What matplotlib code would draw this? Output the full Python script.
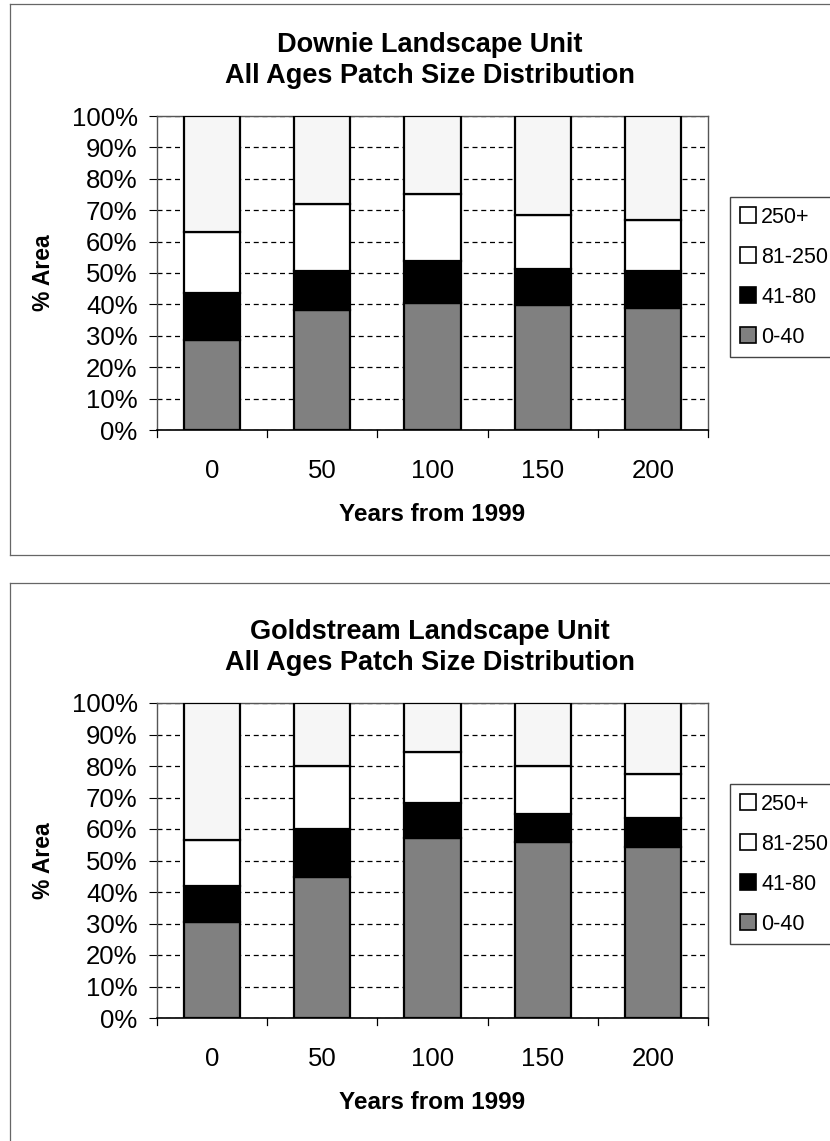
import matplotlib
matplotlib.use("Agg")
import matplotlib.pyplot as plt
from matplotlib.patches import Patch
from matplotlib.lines import Line2D

plt.rcParams['font.family'] = ['Liberation Sans', 'DejaVu Sans']

W, H = 830, 1141

years = ["0", "50", "100", "150", "200"]
classes = ["0-40", "41-80", "81-250", "250+"]
colors = {"0-40": "#808080", "41-80": "#000000", "81-250": "#ffffff", "250+": "#f6f6f6"}
legend_colors = {"0-40": "#808080", "41-80": "#000000", "81-250": "#ffffff", "250+": "#ffffff"}

# Share of area (%) per patch-size class
downie_0_40 = [28.8, 38.3, 40.6, 39.9, 38.8]
downie_41_80 = [14.9, 12.4, 13.2, 11.5, 11.8]
downie_81_250 = [19.2, 21.4, 21.5, 17.0, 16.3]
downie_250 = [37.1, 27.9, 24.7, 31.6, 33.1]

gold_0_40 = [30.4, 44.8, 57.0, 55.8, 54.3]
gold_41_80 = [11.6, 15.3, 11.1, 9.0, 9.3]
gold_81_250 = [14.4, 19.9, 16.3, 15.2, 14.0]
gold_250 = [43.6, 20.0, 15.6, 20.0, 22.4]

charts = [
    dict(title=["Downie Landscape Unit", "All Ages Patch Size Distribution"],
         series=[downie_0_40, downie_41_80, downie_81_250, downie_250],
         frame_top=4, frame_bottom=555, ax_top=116, ax_bottom=430),
    dict(title=["Goldstream Landscape Unit", "All Ages Patch Size Distribution"],
         series=[gold_0_40, gold_41_80, gold_81_250, gold_250],
         frame_top=583, frame_bottom=1160, ax_top=703, ax_bottom=1018),
]

fig = plt.figure(figsize=(W / 100, H / 100), dpi=100)
fig.patch.set_facecolor("white")

AX_LEFT, AX_RIGHT = 157, 708


def fx(px):
    return px / W


def fy(py):
    return 1 - py / H


for ch in charts:
    # outer chart frame
    ft, fb = ch["frame_top"], ch["frame_bottom"]
    fig.add_artist(Line2D([fx(10), fx(10)], [fy(ft), fy(fb)], color="#666666", lw=0.9))
    fig.add_artist(Line2D([fx(10), fx(840)], [fy(ft), fy(ft)], color="#666666", lw=0.9))
    fig.add_artist(Line2D([fx(10), fx(840)], [fy(fb), fy(fb)], color="#666666", lw=0.9))

    ax = fig.add_axes([fx(AX_LEFT), fy(ch["ax_bottom"]),
                       fx(AX_RIGHT) - fx(AX_LEFT), fy(ch["ax_top"]) - fy(ch["ax_bottom"])])
    x = list(range(len(years)))
    bottom = [0.0] * len(years)
    for cls, vals in zip(classes, ch["series"]):
        ax.bar(x, vals, width=0.51, bottom=bottom, color=colors[cls],
               edgecolor="black", linewidth=1.6, zorder=3)
        bottom = [b + v for b, v in zip(bottom, vals)]

    ax.set_xlim(-0.5, len(years) - 0.5)
    ax.set_ylim(0, 100)
    ax.set_yticks(range(0, 101, 10))
    ax.set_yticklabels([f"{v}%" for v in range(0, 101, 10)], fontsize=18.5)
    ax.set_xticks(x)
    ax.set_xticklabels(years, fontsize=18.5)
    ax.tick_params(axis="x", length=0, pad=21)
    ax.tick_params(axis="y", length=6, width=0.8, pad=8, direction="out")
    # category boundary ticks on the x axis
    for b in [i - 0.5 for i in range(len(years) + 1)]:
        ax.plot([b, b], [0, -2.2], color="black", lw=0.9, clip_on=False, zorder=4)

    ax.yaxis.grid(True, color="black", linestyle=(0, (4, 3)), linewidth=0.9)
    ax.set_axisbelow(True)
    for s in ["left", "top", "right"]:
        ax.spines[s].set_color("#555555")
        ax.spines[s].set_linewidth(1.0)
    ax.spines["bottom"].set_color("black")
    ax.spines["bottom"].set_linewidth(1.2)

    ax.set_ylabel("% Area", fontsize=16.5, fontweight="bold", labelpad=12)
    ax.set_xlabel("Years from 1999", fontsize=17.5, fontweight="bold", labelpad=14)

    tb = ch["ax_top"]
    fig.text(fx(430), fy(tb - 71), ch["title"][0], ha="center", va="center",
             fontsize=19.5, fontweight="bold")
    fig.text(fx(430), fy(tb - 40), ch["title"][1], ha="center", va="center",
             fontsize=19.5, fontweight="bold")

    handles = [Patch(facecolor=legend_colors[c], edgecolor="black", linewidth=1.2, label=c)
               for c in reversed(classes)]
    fig.legend(handles=handles, loc="upper left",
               bbox_to_anchor=(fx(730), fy(tb + 81)), borderaxespad=0,
               fontsize=15.5, handlelength=0.75, handleheight=0.75, handletextpad=0.25,
               labelspacing=0.88, fancybox=False, framealpha=1,
               edgecolor="#444444", borderpad=0.45)

fig.savefig("out.png", dpi=100, facecolor="white")
